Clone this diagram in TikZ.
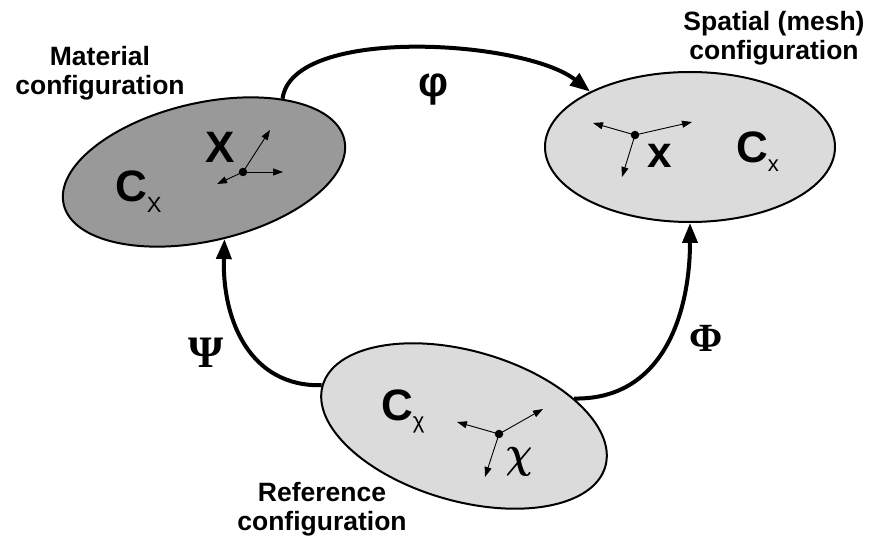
\documentclass[tikz,border=0pt]{standalone}
\usepackage{fontspec}
\setmainfont{Liberation Sans}
\newfontfamily\greekserif{Liberation Serif}
\usetikzlibrary{shapes.geometric,arrows.meta}

\begin{document}
\begin{tikzpicture}[x=1pt,y=1pt,
    conf/.style={ellipse, draw=black, line width=2pt, inner sep=0pt},
    map/.style={line width=4pt, -{Triangle[length=20pt,width=15pt]}},
    basis/.style={line width=0.9pt, -{Triangle[length=10pt,width=7pt]}},
    origin/.style={circle, fill=black, inner sep=0pt, minimum size=8.5pt},
    lbl/.style={align=center, inner sep=0pt, anchor=base, font=\fontsize{26.5}{29}\selectfont\bfseries},
    sym/.style={inner sep=0pt, anchor=base, font=\fontsize{44}{44}\selectfont\bfseries},
    gsym/.style={inner sep=0pt, anchor=base, font=\fontsize{#1}{#1}\selectfont\greekserif\bfseries}]
  \useasboundingbox (0,0) rectangle (871,-540);

  % the three configurations
  \node[conf, fill=black!40, minimum width=288pt, minimum height=138pt, rotate=13] (mat) at (204,-172) {};
  \node[conf, fill=black!14, minimum width=290pt, minimum height=150pt] (spa) at (690,-147) {};
  \node[conf, fill=black!14, minimum width=294pt, minimum height=150pt, rotate=-16] (ref) at (464,-426) {};

  % mappings
  \draw[map] (mat.30) .. controls (292,-25) and (525,-40) .. (spa.151);
  \draw[map] (ref.180) .. controls (250,-387) and (222,-320) .. (mat.-86);
  \draw[map] (ref.30) .. controls (665,-400) and (690,-310) .. (spa.south);
  \node[inner sep=0pt, anchor=base, font=\fontsize{42}{42}\selectfont\bfseries] (phi) at (434,-97) {φ};
  \node[gsym=45] (psi) at (206,-367) {Ψ};
  \node[gsym=40] (Phi) at (706,-352) {Φ};

  % labels
  \node[lbl] (matlbl) at (100,-95) {Material\\configuration};
  \node[lbl] (spalbl) at (774,-60) {Spatial (mesh)\\configuration};
  \node[lbl] (reflbl) at (322,-530) {Reference\\configuration};

  % material point and basis
  \node[origin] (Xo) at (243,-172) {};
  \foreach \dx/\dy in {27/42, 40/0, -26/-12}
    \draw[basis] (Xo.center) -- ++(\dx,\dy);
  \node[sym] (X) at (220,-163) {X};
  \node[sym, anchor=base west] (CX) at (115,-202) {C\raisebox{-11pt}{\fontsize{22}{22}\selectfont\mdseries X}};

  % spatial point and basis
  \node[origin] (xo) at (635,-135) {};
  \foreach \dx/\dy in {-42/12, 57/13, -13/-42}
    \draw[basis] (xo.center) -- ++(\dx,\dy);
  \node[sym] (x) at (660,-168) {x};
  \node[sym, anchor=base west] (Cx) at (736,-163) {C\raisebox{-9pt}{\fontsize{22}{22}\selectfont\mdseries x}};

  % reference point and basis
  \node[origin] (chio) at (499,-434) {};
  \foreach \dx/\dy in {-42/12, 44/25, -14/-43}
    \draw[basis] (chio.center) -- ++(\dx,\dy);
  \node[inner sep=0pt, anchor=base, xscale=1.5, yscale=1.8, font=\fontsize{24}{24}\selectfont\boldmath] (chi) at (519,-467) {$\chi$};
  \node[sym, anchor=base west] (Cchi) at (381,-420) {C\raisebox{-9pt}{\fontsize{22}{22}\selectfont\mdseries χ}};
\end{tikzpicture}
\end{document}
